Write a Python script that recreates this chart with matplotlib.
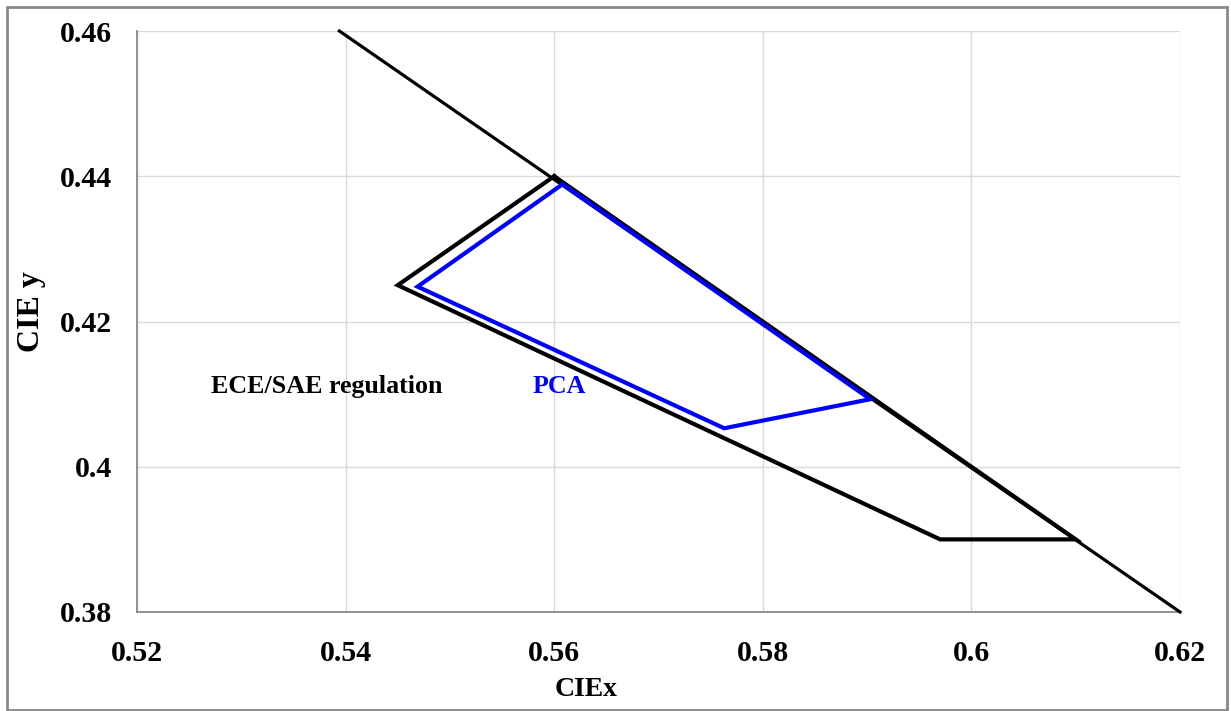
import matplotlib
matplotlib.use("Agg")
import matplotlib.pyplot as plt
from matplotlib.patches import Rectangle

plt.rcParams['font.family'] = ['Liberation Serif', 'DejaVu Serif']
plt.rcParams['font.weight'] = 'bold'

# Spectral locus segment (boundary line)
locus_x = [0.5394, 0.62]
locus_y = [0.46, 0.38]

# ECE/SAE regulation amber region (closed polygon)
ece_x = [0.56, 0.545, 0.597, 0.61, 0.56]
ece_y = [0.44, 0.425, 0.39, 0.39, 0.44]

# PCA region (closed polygon)
pca_x = [0.5608, 0.5469, 0.5763, 0.5903, 0.5608]
pca_y = [0.4389, 0.4248, 0.4053, 0.4093, 0.4389]

x_ticks = [0.52, 0.54, 0.56, 0.58, 0.60, 0.62]
x_tick_labels = ['0.52', '0.54', '0.56', '0.58', '0.6', '0.62']
y_ticks = [0.38, 0.40, 0.42, 0.44, 0.46]
y_tick_labels = ['0.38', '0.4', '0.42', '0.44', '0.46']

fig = plt.figure(figsize=(12.31, 7.11), dpi=100)
ax = fig.add_axes([137 / 1231, 1 - 612 / 711, (1180 - 137) / 1231, (612 - 31) / 711])

ax.set_xlim(0.52, 0.62)
ax.set_ylim(0.38, 0.46)
ax.set_xticks(x_ticks)
ax.set_xticklabels(x_tick_labels)
ax.set_yticks(y_ticks)
ax.set_yticklabels(y_tick_labels)
ax.tick_params(axis='both', length=0, labelsize=21.5, pad=18)
ax.tick_params(axis='x', pad=20)
for lbl in ax.get_xticklabels() + ax.get_yticklabels():
    lbl.set_fontweight('bold')

ax.grid(True, color='#d9d9d9', linewidth=1.0, zorder=0)
ax.set_axisbelow(True)
for side in ('top', 'right'):
    ax.spines[side].set_visible(False)
for side in ('left', 'bottom'):
    ax.spines[side].set_color('#898989')
    ax.spines[side].set_linewidth(1.3)

ax.plot(locus_x, locus_y, color='black', linewidth=2.3, zorder=3, clip_on=False)
ax.plot(ece_x, ece_y, color='black', linewidth=3.0, zorder=4, solid_joinstyle='miter')
ax.plot(pca_x, pca_y, color='#0000ff', linewidth=3.0, zorder=5, solid_joinstyle='miter')

ax.text(0.5271, 0.411, 'ECE/SAE regulation', fontsize=18.7, fontweight='bold',
        color='black', va='center', ha='left', zorder=2)
ax.text(0.5579, 0.411, 'PCA', fontsize=18.7, fontweight='bold',
        color='#0000ff', va='center', ha='left', zorder=2)

fig.text(586 / 1231, 1 - 690 / 711, 'CIEx', fontsize=20, fontweight='bold',
         ha='center', va='center')
fig.text(31 / 1231, 1 - 312 / 711, 'CIE y', fontsize=23, fontweight='bold',
         ha='center', va='center', rotation=90)

# outer chart-area frame
fig.patches.append(Rectangle((7 / 1231, 1 / 711), 1220 / 1231, 703 / 711,
                             transform=fig.transFigure, fill=False,
                             edgecolor='#898989', linewidth=2.0))

fig.savefig('out.png', dpi=100)
